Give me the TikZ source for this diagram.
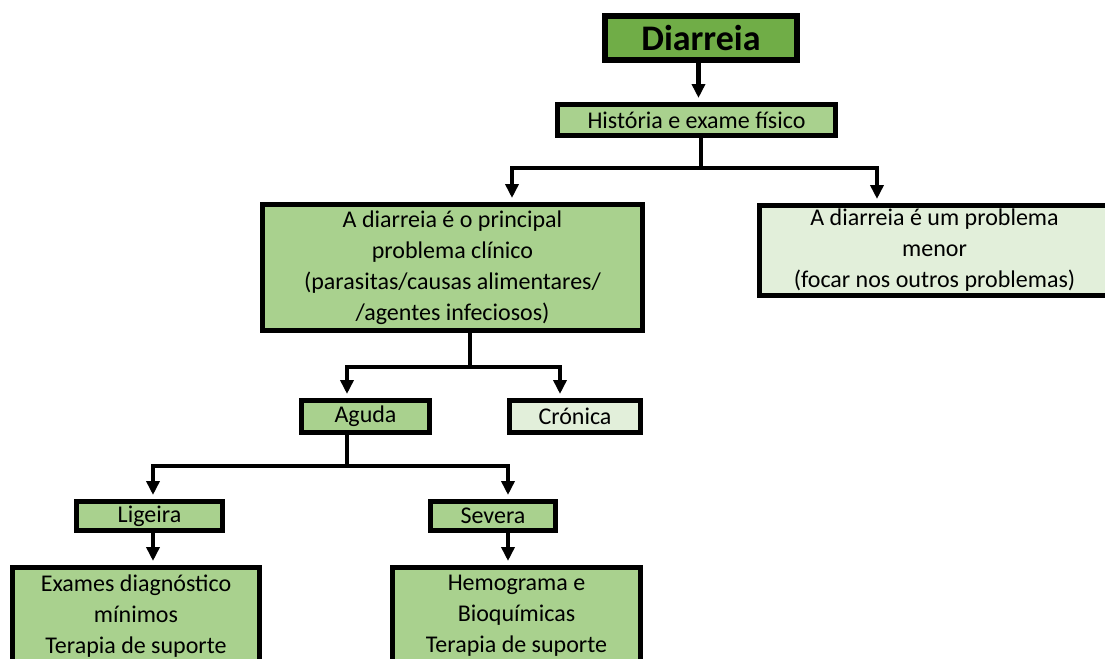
\documentclass[tikz,border=0pt]{standalone}
\usepackage{fontspec}
\setmainfont{Carlito}
\usetikzlibrary{arrows.meta}
\definecolor{darkgr}{HTML}{70AD47}
\definecolor{midgr}{HTML}{A9D18E}
\definecolor{lightgr}{HTML}{E2EFDA}
\begin{document}
\begin{tikzpicture}[x=0.5pt,y=-0.5pt,
  box/.style = {draw, line width=2.5pt, fill=midgr, inner sep=0pt, align=center,
    font=\fontsize{12}{15.5}\selectfont},
  link/.style = {line width=2.25pt},
  arr/.style = {link, -{Triangle[width=6.5pt,length=7pt]}, shorten >=2pt}]
\useasboundingbox (0,0) rectangle (1105,659);
\clip (0,0) rectangle (1105,659);
\node[box, fill=darkgr, line width=3pt, minimum width=96pt, minimum height=22pt,
  font=\fontsize{18}{20}\selectfont\bfseries] (diag) at (701,38) {Diarreia};
\node[box, minimum width=139pt, minimum height=15.5pt] (hist) at (696.5,120) {História e exame físico};
\node[box, minimum width=190pt, minimum height=63pt] (main) at (452.5,267.5)
  {A diarreia é o principal\\ problema clínico\\ (parasitas/causas alimentares/\\ /agentes infeciosos)};
\node[box, fill=lightgr, minimum width=175pt, minimum height=45pt] (minor) at (934.5,250.5)
  {A diarreia é um problema\\ menor\\ (focar nos outros problemas)};
\node[box, minimum width=64pt, minimum height=16pt] (aguda) at (365.5,416.5) {Aguda};
\node[box, fill=lightgr, minimum width=65.5pt, minimum height=16pt] (cronica) at (575,416.5) {Crónica};
\node[box, minimum width=73pt, minimum height=14.5pt] (ligeira) at (149.5,516) {Ligeira};
\node[box, minimum width=62.5pt, minimum height=14.5pt] (severa) at (493,516) {Severa};
\node[box, minimum width=123.5pt, minimum height=48.5pt] (exames) at (136,616)
  {Exames diagnóstico\\ mínimos\\ Terapia de suporte};
\node[box, minimum width=124pt, minimum height=48.5pt] (hemo) at (516.5,616)
  {Hemograma e\\ Bioquímicas\\ Terapia de suporte};
% connectors
\coordinate (s1) at (701,168);
\coordinate (s2) at (470,367);
\coordinate (s3) at (347,466);
\draw[arr] ([xshift=-1.25pt]diag.south) -- ([xshift=-1.25pt]diag.south |- hist.north);
\draw[link] (hist.south -| s1) -- (s1);
\draw[arr] (s1) -| ([xshift=29.75pt]main.north);
\draw[arr] (s1) -| ([xshift=-28.75pt]minor.north);
\draw[link] (main.south -| s2) -- (s2);
\draw[arr] (s2) -| ([xshift=-9.25pt]aguda.north);
\draw[arr] (s2) -| ([xshift=-7.5pt]cronica.north);
\draw[link] (aguda.south -| s3) -- (s3);
\draw[arr] (s3) -| ([xshift=1.75pt]ligeira.north);
\draw[arr] (s3) -| ([xshift=7.5pt]severa.north);
\draw[arr] ([xshift=1.75pt]ligeira.south) -- ([xshift=1.75pt]ligeira.south |- exames.north);
\draw[arr] ([xshift=7.5pt]severa.south) -- ([xshift=7.5pt]severa.south |- hemo.north);
\end{tikzpicture}
\end{document}
